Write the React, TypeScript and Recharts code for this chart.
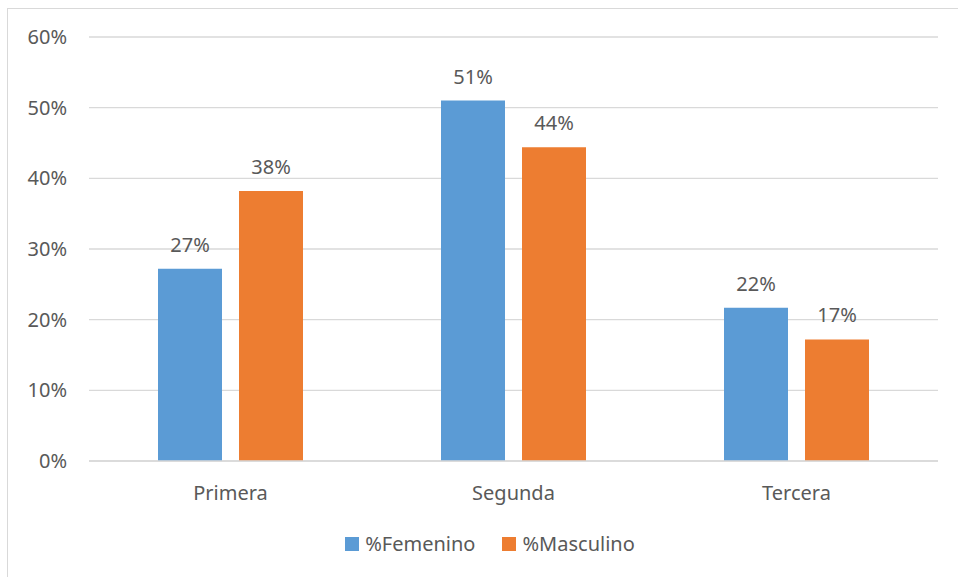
import { Bar, BarChart, CartesianGrid, LabelList, Legend, XAxis, YAxis } from "recharts";

const categories = ["Primera", "Segunda", "Tercera"];
const femenino = [27.2, 51.0, 21.7];
const masculino = [38.2, 44.4, 17.2];
const yTicks = [0, 10, 20, 30, 40, 50, 60];

const BLUE = "#5B9BD5";
const ORANGE = "#ED7D31";
const TEXT = "#595959";
const GRID = "#D9D9D9";
const FONT = "'Noto Sans', sans-serif";

const data = categories.map((name, i) => ({
  name,
  femenino: femenino[i],
  masculino: masculino[i]
}));

const pct = (v: any) => `${Math.round(Number(v))}%`;

function LegendContent() {
  const items = [
    { label: "%Femenino", color: BLUE },
    { label: "%Masculino", color: ORANGE }
  ];
  return (
    <div style={{ display: "flex", justifyContent: "center", alignItems: "center", gap: 27 }}>
      {items.map((it) => (
        <div key={it.label} style={{ display: "flex", alignItems: "center" }}>
          <span style={{ width: 14, height: 14, background: it.color, display: "inline-block", marginRight: 6 }} />
          <span style={{ fontFamily: FONT, fontSize: 20, color: TEXT }}>{it.label}</span>
        </div>
      ))}
    </div>
  );
}

export default function App() {
  return (
    <div style={{ position: "absolute", left: 0, top: 0, width: 958, height: 577, background: "#fff" }}>
      <div
        style={{
          position: "absolute",
          left: 7,
          top: 8,
          width: 951,
          height: 569,
          borderLeft: `1px solid ${GRID}`,
          borderTop: `1px solid ${GRID}`
        }}
      />
      <BarChart
        width={958}
        height={577}
        data={data}
        margin={{ top: 37, right: 20, left: 0, bottom: 36 }}
        barSize={64}
        barGap={17}
      >
        <CartesianGrid vertical={false} stroke={GRID} strokeWidth={1.3} />
        <XAxis
          dataKey="name"
          height={50}
          tickLine={false}
          tickSize={0}
          tickMargin={25}
          axisLine={{ stroke: GRID, strokeWidth: 1.3 }}
          tick={{ fill: TEXT, fontSize: 20, fontFamily: FONT }}
        />
        <YAxis
          width={89}
          domain={[0, 60]}
          ticks={yTicks}
          tickFormatter={pct}
          axisLine={false}
          tickLine={false}
          tickSize={0}
          tickMargin={22}
          tick={{ fill: TEXT, fontSize: 20, fontFamily: FONT }}
        />
        <Legend
          verticalAlign="bottom"
          content={<LegendContent />}
          wrapperStyle={{ top: 530, left: 11, width: 958, height: 30 }}
        />
        <Bar dataKey="femenino" name="%Femenino" fill={BLUE} isAnimationActive={false}>
          <LabelList dataKey="femenino" position="top" offset={17} formatter={pct} fill={TEXT} fontSize={20} fontFamily={FONT} />
        </Bar>
        <Bar dataKey="masculino" name="%Masculino" fill={ORANGE} isAnimationActive={false}>
          <LabelList dataKey="masculino" position="top" offset={17} formatter={pct} fill={TEXT} fontSize={20} fontFamily={FONT} />
        </Bar>
      </BarChart>
    </div>
  );
}
